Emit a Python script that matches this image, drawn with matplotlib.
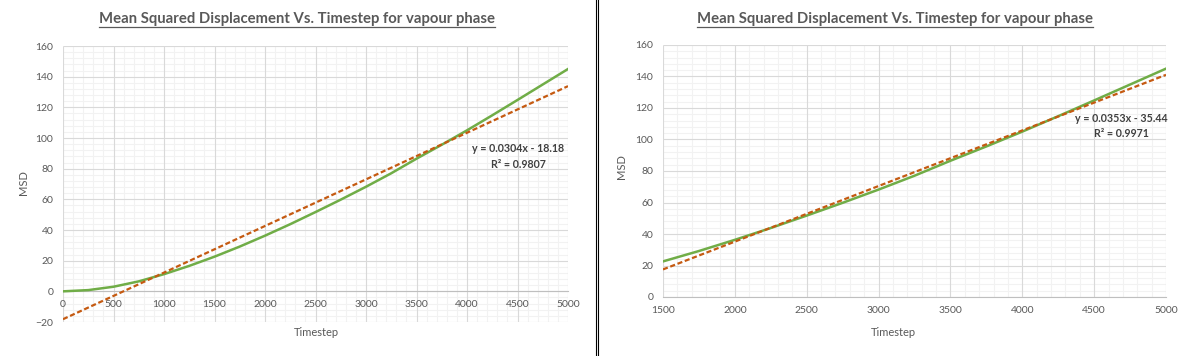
import matplotlib
matplotlib.use('Agg')
from matplotlib import pyplot as plt
from matplotlib.lines import Line2D
from matplotlib.ticker import MultipleLocator
import numpy as np

# MSD readings (vapour phase), every 250 timesteps
timestep = [0, 250, 500, 750, 1000, 1250, 1500, 1750, 2000, 2250, 2500,
            2750, 3000, 3250, 3500, 3750, 4000, 4250, 4500, 4750, 5000]
msd = [0.0, 0.8, 3.0, 6.5, 11.2, 16.6, 22.6, 29.2, 36.3, 43.8, 51.7,
       59.8, 68.2, 77.0, 86.5, 95.6, 105.0, 114.8, 124.8, 134.9, 145.0]

# trendlines printed on the charts (slope, intercept, R^2)
fit_full = (0.0304, -18.18, 0.9807)
fit_late = (0.0353, -35.44, 0.9971)
late_start = 1500

title = 'Mean Squared Displacement Vs. Timestep for vapour phase'
font = 'Lato'
grey = '#595959'
green = '#70AD47'
orange = '#C55A11'

W, H = 1192, 356
fig = plt.figure(figsize=(W / 100, H / 100), dpi=100)


def px_axes(l, r, t, b):
    return fig.add_axes([l / W, 1 - b / H, (r - l) / W, (b - t) / H])


def style(ax, xlo, ylo):
    ax.set_xlim(xlo, 5000)
    ax.set_ylim(ylo, 160)
    ax.xaxis.set_major_locator(MultipleLocator(500))
    ax.yaxis.set_major_locator(MultipleLocator(20))
    # grid drawn as plain lines so the tick labels sit on top, like Excel
    xs = np.arange(xlo, 5001, 100)
    ys = np.arange(ylo, 161, 4)
    ax.vlines(xs[xs % 500 != 0], ylo, 160, color='#F2F2F2', lw=0.8, zorder=0.5)
    ax.hlines(ys[ys % 20 != 0], xlo, 5000, color='#F2F2F2', lw=0.8, zorder=0.5)
    ax.vlines(xs[xs % 500 == 0], ylo, 160, color='#D9D9D9', lw=0.8, zorder=0.6)
    ax.hlines(ys[ys % 20 == 0], xlo, 5000, color='#D9D9D9', lw=0.8, zorder=0.6)
    for s in ['top', 'right', 'left']:
        ax.spines[s].set_visible(False)
    ax.spines['bottom'].set_color('#BFBFBF')
    ax.spines['bottom'].set_linewidth(0.8)
    ax.spines['bottom'].set_position(('data', 0))
    ax.tick_params(which='both', length=0, labelsize=7.5, labelcolor=grey)
    ax.tick_params(axis='y', pad=7)
    ax.tick_params(axis='x', pad=6.5)
    for lab in ax.get_xticklabels() + ax.get_yticklabels():
        lab.set_fontfamily(font)


t = np.array(timestep)
m = np.array(msd)
dash = (0, (2.3, 1.2))

# left: whole run
ax1 = px_axes(63, 568, 46, 322)
style(ax1, 0, -20)
ax1.plot(t, m, color=green, lw=1.8, zorder=3)
ax1.plot([0, 5000], [fit_full[1], fit_full[0] * 5000 + fit_full[1]], color=orange,
         lw=1.6, ls=dash, zorder=4)

# right: from 1500 on
ax2 = px_axes(663, 1166, 45, 297)
style(ax2, late_start, 0)
sel = t >= late_start
ax2.plot(t[sel], m[sel], color=green, lw=1.8, zorder=3)
ax2.plot([late_start, 5000], [fit_late[0] * late_start + fit_late[1], fit_late[0] * 5000 + fit_late[1]],
         color=orange, lw=1.6, ls=dash, zorder=4)

for fit, ex, ey in [(fit_full, 518, 149), (fit_late, 1121, 119)]:
    fig.text(ex / W, 1 - ey / H, 'y = %.4fx - %.2f' % (fit[0], -fit[1]), ha='center', va='center',
             fontsize=7.7, fontweight='bold', color='#404040', family=font)
    fig.text(ex / W, 1 - (ey + 15) / H, 'R² = %.4f' % fit[2], ha='center', va='center',
             fontsize=7.7, fontweight='bold', color='#404040', family=font)

# axis titles
for cx, cy in [(316, 333), (893, 332)]:
    fig.text(cx / W, 1 - cy / H, 'Timestep', ha='center', va='center', fontsize=8, color=grey, family=font)
for cx, cy in [(24, 183), (622, 167)]:
    fig.text(cx / W, 1 - cy / H, 'MSD', ha='center', va='center', rotation=90, fontsize=8,
             color=grey, family=font)

# chart titles, underlined
titles = []
for cx in [297, 895]:
    titles.append(fig.text(cx / W, 1 - 19 / H, title, ha='center', va='center', fontsize=10.7,
                           fontweight='bold', color=grey, family=font))
fig.canvas.draw()
r = fig.canvas.get_renderer()
for tt in titles:
    bb = tt.get_window_extent(r)
    yl = bb.y0 - 1
    fig.add_artist(Line2D([bb.x0 / W, bb.x1 / W], [yl / H, yl / H], color=grey, lw=0.9,
                          transform=fig.transFigure))

# double divider between the two charts
for x in [595.5, 597.5]:
    fig.add_artist(Line2D([x / W, x / W], [0, 1], color='black', lw=0.8, transform=fig.transFigure))

fig.savefig('out.png', dpi=100)
